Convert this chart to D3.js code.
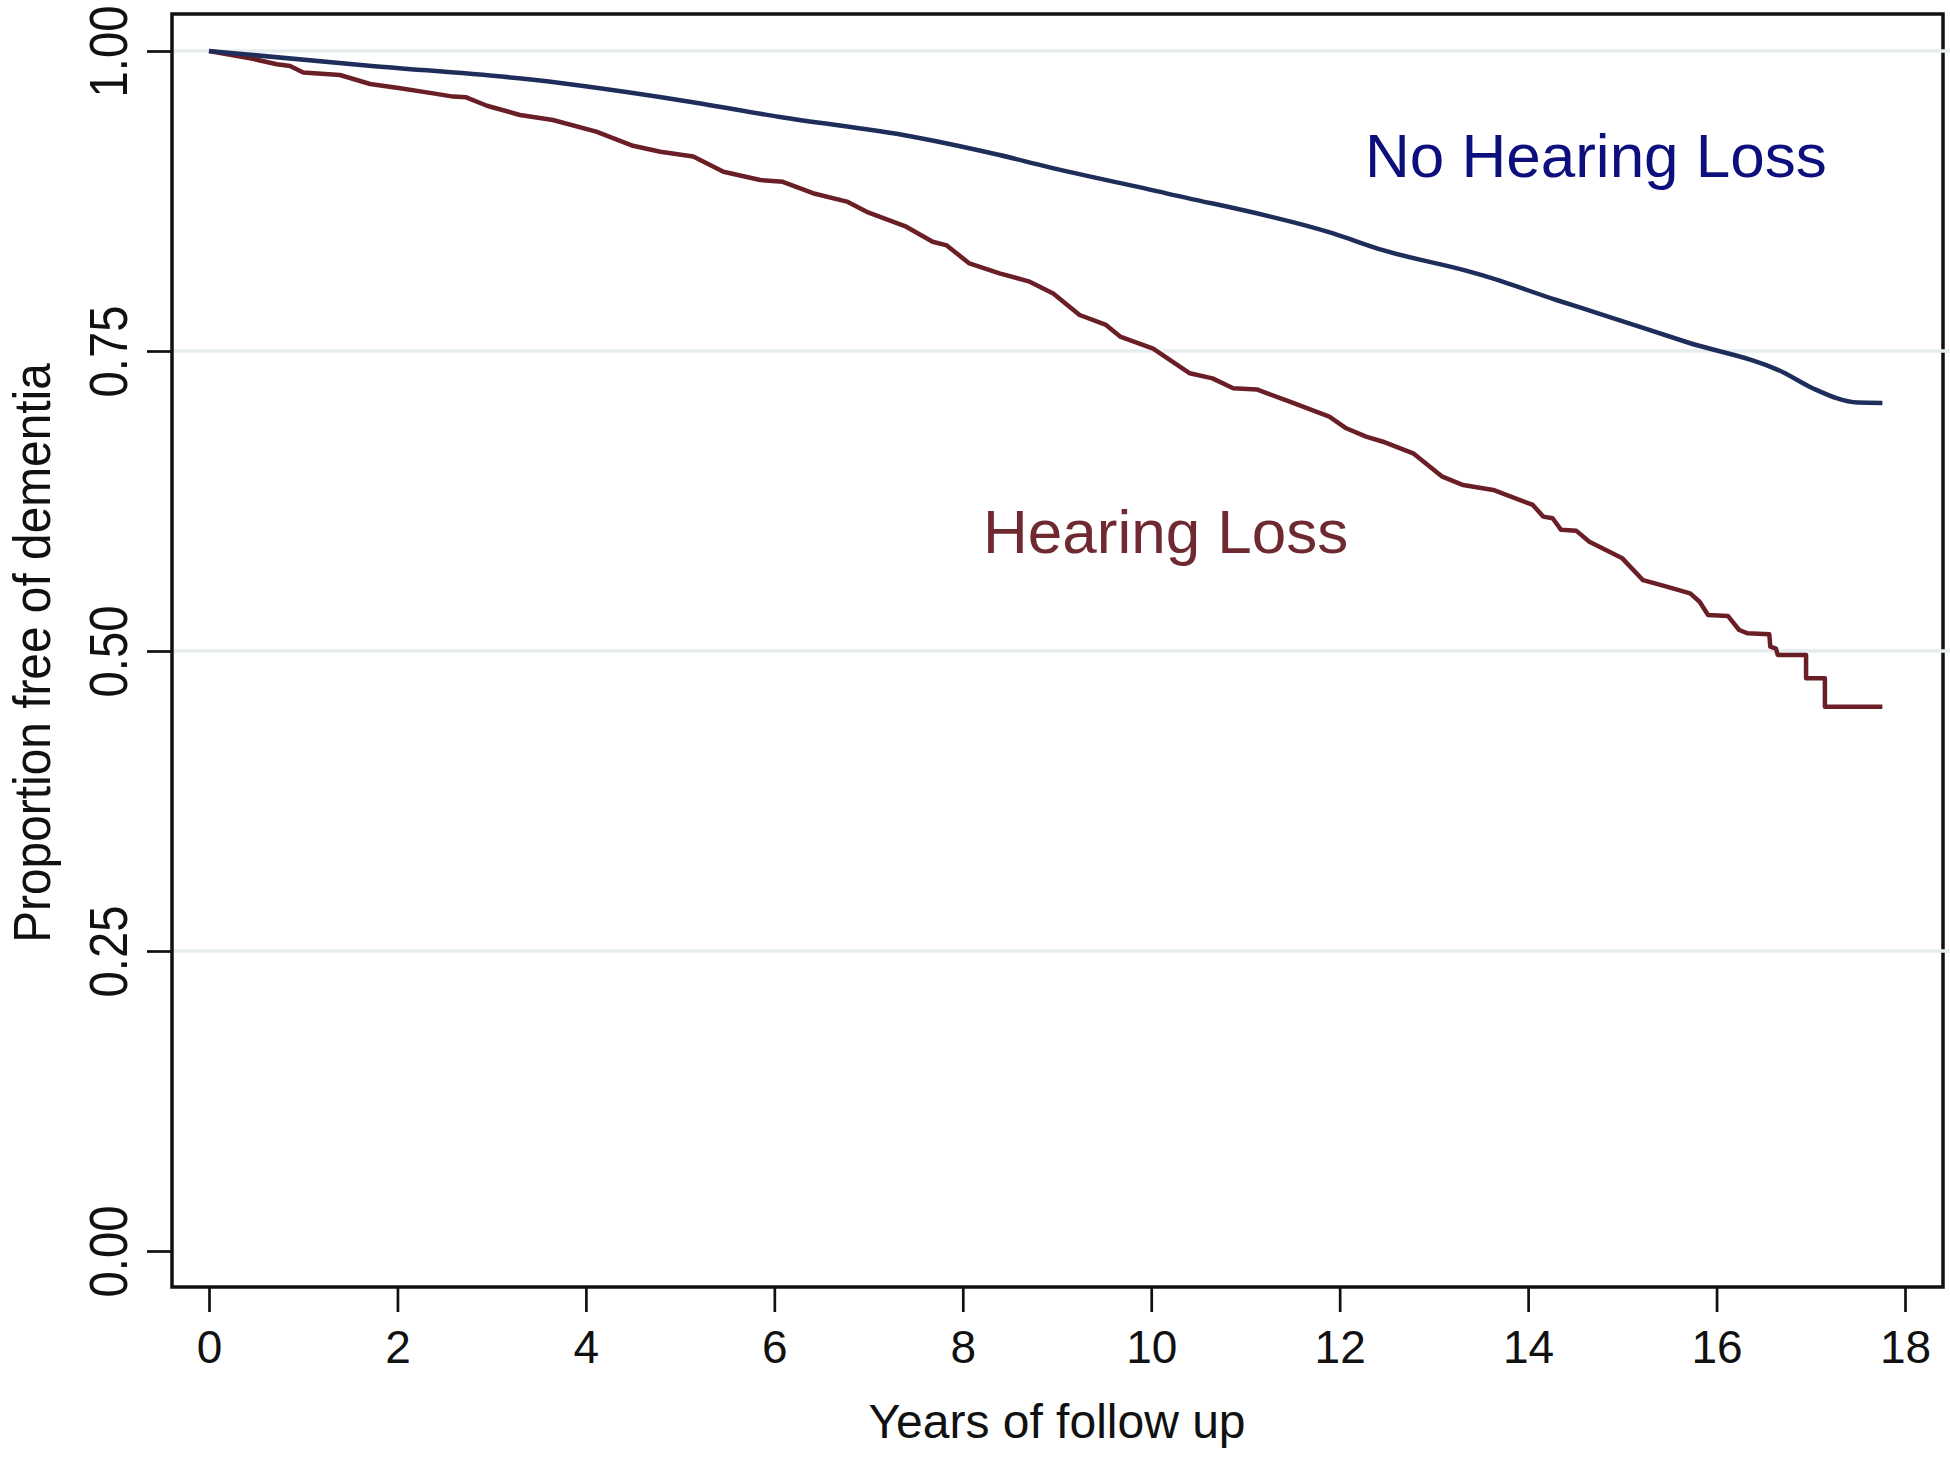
<!DOCTYPE html>
<html>
<head>
<meta charset="utf-8">
<script src="https://cdn.jsdelivr.net/npm/d3@7"></script>
<style>
  html, body { margin: 0; padding: 0; background: #ffffff; }
  svg { display: block; }
  text { font-family: "Liberation Sans", Arial, Helvetica, sans-serif; }
</style>
</head>
<body>
<script>
// ---- data ----
const xTicks = [0, 2, 4, 6, 8, 10, 12, 14, 16, 18];
const yTicks = [0, 0.25, 0.5, 0.75, 1];
const yTickLabels = ["0.00", "0.25", "0.50", "0.75", "1.00"];
const gridValues = [0.25, 0.5, 0.75, 1];

const seriesNames = ["No Hearing Loss", "Hearing Loss"];

const noLossYears = [0, 1.67, 3.44, 5.0, 6.06, 7.47, 8.39, 8.89, 10.16, 11.93, 12.46, 13.34, 13.52, 14.3, 14.76, 15.68, 16.70, 17.02, 17.5, 17.76];
const noLossProp  = [1.0, 0.988, 0.976, 0.959, 0.945, 0.9286, 0.9133, 0.9036, 0.8814, 0.848, 0.834, 0.817, 0.813, 0.7925, 0.781, 0.7575, 0.7325, 0.719, 0.707, 0.7067];

const lossYears = [0, 0.435, 0.72, 0.86, 1.0, 1.39, 1.71, 2.03, 2.38, 2.59, 2.73, 2.95, 3.30, 3.65, 4.11, 4.50, 4.79, 5.14, 5.46, 5.85, 6.09, 6.41, 6.77, 6.98, 7.40, 7.68, 7.83, 8.07, 8.39, 8.71, 8.96, 9.24, 9.52, 9.67, 10.02, 10.41, 10.65, 10.87, 11.12, 11.47, 11.89, 12.07, 12.28, 12.46, 12.78, 13.09, 13.31, 13.63, 14.05, 14.16, 14.26, 14.35, 14.51, 14.65, 15.0, 15.22, 15.47, 15.72, 15.82, 15.91, 16.12, 16.24, 16.33, 16.56, 16.57, 16.63, 16.65, 16.95, 16.95, 17.15, 17.15, 17.76];
const lossProp  = [1.0, 0.994, 0.989, 0.9875, 0.982, 0.980, 0.9725, 0.969, 0.9647, 0.962, 0.9614, 0.9544, 0.9467, 0.9425, 0.9328, 0.921, 0.916, 0.912, 0.8994, 0.8925, 0.891, 0.8815, 0.8745, 0.866, 0.8536, 0.841, 0.838, 0.823, 0.8147, 0.8078, 0.798, 0.78, 0.7717, 0.762, 0.752, 0.7314, 0.7272, 0.719, 0.718, 0.7078, 0.6953, 0.6856, 0.6786, 0.6744, 0.6647, 0.6453, 0.6383, 0.6342, 0.6217, 0.612, 0.6106, 0.601, 0.6003, 0.591, 0.5772, 0.559, 0.5536, 0.548, 0.541, 0.530, 0.5292, 0.5175, 0.5147, 0.5139, 0.5036, 0.502, 0.4967, 0.4967, 0.4772, 0.4772, 0.4536, 0.4536];

const xTitle = "Years of follow up";
const yTitle = "Proportion free of dementia";

// ---- layout ----
const W = 1950, H = 1466;
const frame = { left: 172, right: 1943, top: 14, bottom: 1287 };

const x = d3.scaleLinear().domain([0, 18]).range([209, 1905]);
const y = d3.scaleLinear().domain([0, 1]).range([1251, 51]);

const svg = d3.select("body").append("svg")
  .attr("width", W).attr("height", H)
  .attr("viewBox", `0 0 ${W} ${H}`);

svg.append("rect").attr("x", 0).attr("y", 0).attr("width", W).attr("height", H).attr("fill", "#ffffff");

// frame
svg.append("rect")
  .attr("x", frame.left).attr("y", frame.top)
  .attr("width", frame.right - frame.left)
  .attr("height", frame.bottom - frame.top)
  .attr("fill", "none")
  .attr("stroke", "#111111")
  .attr("stroke-width", 3.5);

// grid lines (drawn over the right frame border as in the reference)
svg.append("g").selectAll("line").data(gridValues).join("line")
  .attr("x1", frame.left + 2).attr("x2", W)
  .attr("y1", d => y(d)).attr("y2", d => y(d))
  .attr("stroke", "#e7edef")
  .attr("stroke-width", 3.5);

// x axis
const xAxis = svg.append("g")
  .attr("transform", `translate(0,${frame.bottom})`)
  .call(d3.axisBottom(x).tickValues(xTicks).tickSize(25).tickPadding(18).tickFormat(d3.format("d")));
xAxis.select(".domain").remove();
xAxis.selectAll(".tick line").attr("stroke", "#111").attr("stroke-width", 2.7);
xAxis.selectAll(".tick text")
  .attr("fill", "#111")
  .style("font-size", "46px");

// y axis
const yAxis = svg.append("g")
  .attr("transform", `translate(${frame.left},0)`)
  .call(d3.axisLeft(y).tickValues(yTicks).tickSize(25).tickFormat((d, i) => yTickLabels[i]));
yAxis.select(".domain").remove();
yAxis.selectAll(".tick line").attr("stroke", "#111").attr("stroke-width", 2.7);
yAxis.selectAll(".tick text")
  .attr("fill", "#111")
  .attr("x", null).attr("dy", null)
  .attr("text-anchor", "middle")
  .attr("transform", "translate(-45,0) rotate(-90) scale(0.89,1)")
  .style("font-size", "53px");

// axis titles
svg.append("text")
  .attr("x", x(9)).attr("y", 1438)
  .attr("text-anchor", "middle")
  .attr("fill", "#111")
  .style("font-size", "48px")
  .text(xTitle);

svg.append("text")
  .attr("transform", `translate(50,${y(0.5) + 2}) rotate(-90) scale(0.92,1)`)
  .attr("text-anchor", "middle")
  .attr("fill", "#111")
  .style("font-size", "52px")
  .text(yTitle);

// curves
const lineLinear = d3.line().x(d => x(d[0])).y(d => y(d[1])).curve(d3.curveLinear);
const lineSmooth = d3.line().x(d => x(d[0])).y(d => y(d[1])).curve(d3.curveMonotoneX);
const noLoss = noLossYears.map((t, i) => [t, noLossProp[i]]);
const loss = lossYears.map((t, i) => [t, lossProp[i]]);

svg.append("path").datum(loss)
  .attr("d", lineLinear)
  .attr("fill", "none")
  .attr("stroke", "#6a1f27")
  .attr("stroke-width", 4.5)
  .attr("stroke-linejoin", "round");

svg.append("path").datum(noLoss)
  .attr("d", lineSmooth)
  .attr("fill", "none")
  .attr("stroke", "#1f2d5a")
  .attr("stroke-width", 4.5)
  .attr("stroke-linejoin", "round");

// series labels
svg.append("text")
  .attr("x", 1365).attr("y", 177)
  .attr("fill", "#0d0f7c")
  .style("font-size", "62px")
  .text(seriesNames[0]);

svg.append("text")
  .attr("x", 983).attr("y", 553)
  .attr("fill", "#6e2a30")
  .style("font-size", "62px")
  .text(seriesNames[1]);
</script>
</body>
</html>
